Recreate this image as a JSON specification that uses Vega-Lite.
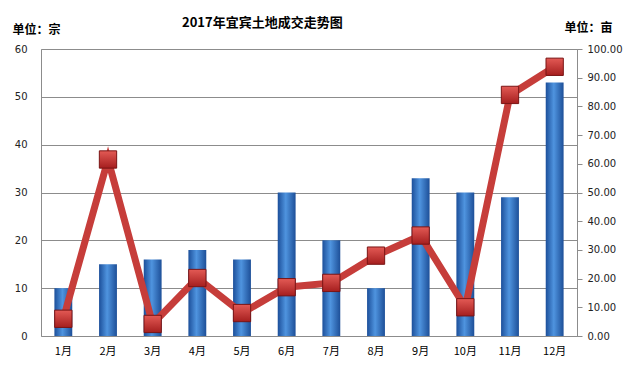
{
  "$schema": "https://vega.github.io/schema/vega-lite/v6.json",
  "autosize": "none",
  "width": 536,
  "height": 287,
  "padding": {"left": 41, "top": 49, "right": 63, "bottom": 37},
  "background": "white",
  "title": {
    "text": "2017年宜宾土地成交走势图",
    "font": "Noto Sans CJK SC",
    "fontSize": 13,
    "fontWeight": "bold",
    "color": "#000000",
    "anchor": "start",
    "dx": 170,
    "offset": -9
  },
  "config": {
    "view": {"stroke": "#8c8c8c", "strokeWidth": 1},
    "axis": {"labelFont": "DejaVu Sans", "labelFontSize": 10, "labelColor": "#222222"}
  },
  "data": {
    "values": [
      {"month": "1月", "count": 10, "area": 6},
      {"month": "2月", "count": 15, "area": 61.5},
      {"month": "3月", "count": 16, "area": 4.2},
      {"month": "4月", "count": 18, "area": 20.2},
      {"month": "5月", "count": 16, "area": 8},
      {"month": "6月", "count": 30, "area": 17},
      {"month": "7月", "count": 20, "area": 18.5},
      {"month": "8月", "count": 10, "area": 28},
      {"month": "9月", "count": 33, "area": 35},
      {"month": "10月", "count": 30, "area": 10},
      {"month": "11月", "count": 29, "area": 84},
      {"month": "12月", "count": 53, "area": 93.8}
    ]
  },
  "encoding": {
    "x": {
      "field": "month",
      "type": "nominal",
      "sort": null,
      "scale": {"paddingInner": 0.6, "paddingOuter": 0.3},
      "axis": {
        "title": null,
        "labelAngle": 0,
        "ticks": false,
        "domain": false,
        "labelPadding": 9,
        "labelFont": "Noto Sans CJK SC",
        "labelFontSize": 11,
        "labelColor": "#000000"
      }
    }
  },
  "layer": [
    {
      "mark": {
        "type": "bar",
        "color": {
          "gradient": "linear",
          "x1": 0, "y1": 0, "x2": 1, "y2": 0,
          "stops": [
            {"offset": 0, "color": "#1c4f9a"},
            {"offset": 0.45, "color": "#4f94df"},
            {"offset": 1, "color": "#1d4f98"}
          ]
        }
      },
      "encoding": {
        "y": {
          "field": "count",
          "type": "quantitative",
          "scale": {"domain": [0, 60]},
          "axis": {
            "orient": "left",
            "values": [0, 10, 20, 30, 40, 50, 60],
            "grid": true,
            "gridColor": "#8c8c8c",
            "domain": false,
            "ticks": false,
            "labelPadding": 14,
            "title": "单位：宗",
            "titleFont": "Noto Sans CJK SC",
            "titleFontSize": 12,
            "titleFontWeight": "bold",
            "titleColor": "#000000",
            "titleAngle": 0,
            "titleAlign": "left",
            "titleBaseline": "alphabetic",
            "titleX": -29,
            "titleY": -16
          }
        }
      }
    },
    {
      "mark": {"type": "line", "color": "#c63d3a", "strokeWidth": 7},
      "encoding": {
        "y": {
          "field": "area",
          "type": "quantitative",
          "scale": {"domain": [0, 100]},
          "axis": {
            "orient": "right",
            "values": [0, 10, 20, 30, 40, 50, 60, 70, 80, 90, 100],
            "format": ".2f",
            "grid": false,
            "domain": true,
            "domainColor": "#8c8c8c",
            "ticks": true,
            "tickColor": "#8c8c8c",
            "tickSize": 5,
            "labelPadding": 5,
            "title": "单位：亩",
            "titleFont": "Noto Sans CJK SC",
            "titleFontSize": 12,
            "titleFontWeight": "bold",
            "titleColor": "#000000",
            "titleAngle": 0,
            "titleAlign": "right",
            "titleBaseline": "alphabetic",
            "titleX": 35,
            "titleY": -18
          }
        }
      }
    },
    {
      "mark": {
        "type": "point",
        "shape": "square",
        "size": 300,
        "filled": true,
        "strokeWidth": 1,
        "stroke": "#7a1414",
        "opacity": 1,
        "color": {
          "gradient": "linear",
          "x1": 0, "y1": 0, "x2": 0, "y2": 1,
          "stops": [
            {"offset": 0, "color": "#e35a55"},
            {"offset": 1, "color": "#a51e1e"}
          ]
        }
      },
      "encoding": {
        "y": {"field": "area", "type": "quantitative", "scale": {"domain": [0, 100]}, "axis": null}
      }
    }
  ],
  "resolve": {"scale": {"y": "independent"}}
}
